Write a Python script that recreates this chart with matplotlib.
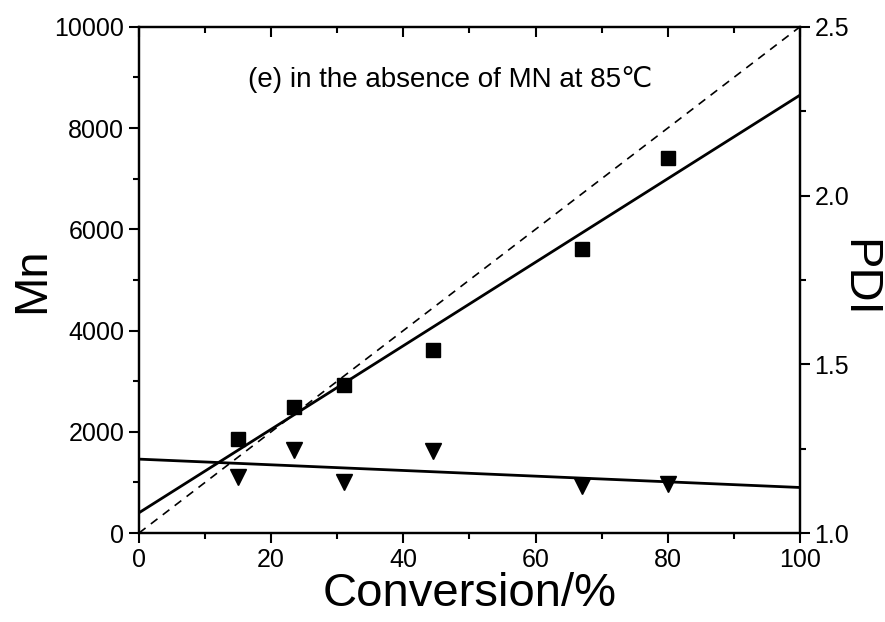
import matplotlib
matplotlib.use("Agg")
import matplotlib.pyplot as plt
from matplotlib.ticker import MultipleLocator

plt.rcParams['font.family'] = ['Liberation Sans', 'DejaVu Sans']

conversion = [15, 23.5, 31, 44.5, 67, 80]
mn_values = [1850, 2480, 2930, 3620, 5610, 7400]
pdi_values = [1.166, 1.245, 1.15, 1.243, 1.139, 1.145]

fit_x = [0, 100]
mn_fit = [400, 8650]
mn_theory = [0, 10000]
pdi_fit = [1.219, 1.135]

fig = plt.figure(figsize=(8.85, 6.22), dpi=100)
ax = fig.add_axes([0.157, 0.143, 0.747, 0.814])
ax2 = ax.twinx()

ax.plot(fit_x, mn_theory, 'k--', lw=1.2, dashes=(5, 4))
ax.plot(fit_x, mn_fit, 'k-', lw=2.0)
ax.plot(conversion, mn_values, 's', color='black', ms=10, ls='none')

ax2.plot(fit_x, pdi_fit, 'k-', lw=2.0)
ax2.plot(conversion, pdi_values, 'v', color='black', ms=12, ls='none')

ax.set_xlim(0, 100)
ax.set_ylim(0, 10000)
ax2.set_ylim(1.0, 2.5)

ax.xaxis.set_major_locator(MultipleLocator(20))
ax.xaxis.set_minor_locator(MultipleLocator(10))
ax.yaxis.set_major_locator(MultipleLocator(2000))
ax.yaxis.set_minor_locator(MultipleLocator(1000))
ax2.yaxis.set_major_locator(MultipleLocator(0.5))
ax2.yaxis.set_minor_locator(MultipleLocator(0.25))

for a in (ax, ax2):
    for s in a.spines.values():
        s.set_linewidth(1.6)

ax.tick_params(axis='both', which='major', direction='out', length=7, width=1.5, labelsize=18)
ax.tick_params(axis='both', which='minor', direction='out', length=4, width=1.5)
ax.tick_params(axis='x', which='both', top=True, labeltop=False)
ax2.tick_params(axis='y', which='major', direction='out', length=7, width=1.5, labelsize=18)
ax2.tick_params(axis='y', which='minor', direction='out', length=4, width=1.5)

# top ticks point inward
for t in ax.xaxis.get_major_ticks() + ax.xaxis.get_minor_ticks():
    t.tick2line.set_marker(matplotlib.lines.TICKDOWN)

ax2.yaxis.set_major_formatter(plt.FuncFormatter(lambda v, p: f"{v:.1f}"))

ax.set_xlabel('Conversion/%', fontsize=34, labelpad=0)
ax.set_ylabel('Mn', fontsize=34, labelpad=0)
fig.text(858 / 885, 0.553, 'PDI', fontsize=34, rotation=270, ha='center', va='center')

ax.text(16.5, 8950, '(e) in the absence of MN at 85\u2103', fontsize=20, ha='left', va='center')

fig.savefig('out.png', dpi=100)
